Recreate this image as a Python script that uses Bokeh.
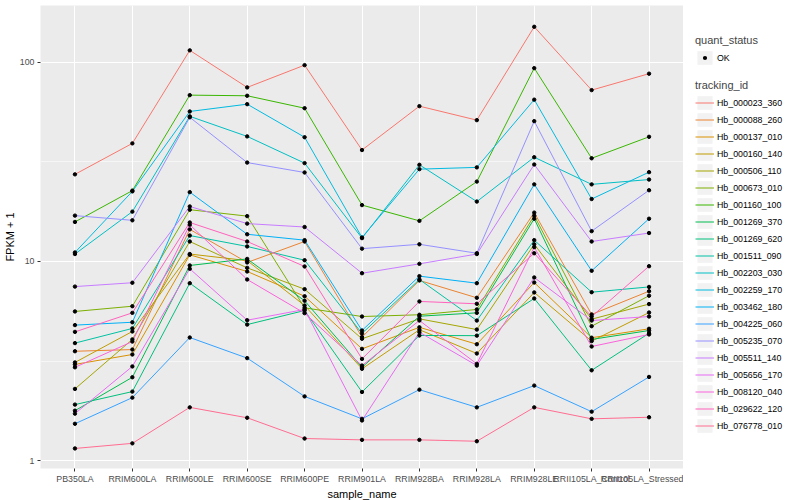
from bokeh.plotting import figure
from bokeh.models import Range1d, FixedTicker, NumeralTickFormatter, Legend, LegendItem
from bokeh.layouts import row
from bokeh.embed import file_html
from bokeh.resources import INLINE

samples = ["PB350LA", "RRIM600LA", "RRIM600LE", "RRIM600SE", "RRIM600PE", "RRIM901LA",
           "RRIM928BA", "RRIM928LA", "RRIM928LE", "RRII105LA_Control", "RRII105LA_Stressed"]

series_ids = ["Hb_000023_360", "Hb_000088_260", "Hb_000137_010", "Hb_000160_140", "Hb_000506_110",
              "Hb_000673_010", "Hb_001160_100", "Hb_001269_370", "Hb_001269_620", "Hb_001511_090",
              "Hb_002203_030", "Hb_002259_170", "Hb_003462_180", "Hb_004225_060", "Hb_005235_070",
              "Hb_005511_140", "Hb_005656_170", "Hb_008120_040", "Hb_029622_120", "Hb_076778_010"]

hb_000023_360 = [27.4, 39.2, 115, 74.9, 96.9, 36.3, 60.3, 51.3, 151, 72.6, 87.8]
hb_000088_260 = [3.54, 3.61, 14.5, 9.89, 12.6, 4.17, 8.03, 6.57, 17.6, 5.42, 7.09]
hb_000137_010 = [3.04, 3.41, 10.8, 8.91, 6.69, 3.64, 4.67, 3.84, 7.84, 4.14, 4.59]
hb_000160_140 = [3.11, 4.45, 10.9, 10.1, 6.01, 2.89, 4.54, 3.45, 6.99, 3.98, 5.54]
hb_000506_110 = [2.29, 4.06, 12.6, 9.29, 7.26, 4.09, 5.15, 4.55, 12.2, 5.13, 6.11]
hb_000673_010 = [5.61, 5.96, 18.2, 16.9, 5.85, 5.29, 5.40, 5.74, 17.0, 4.73, 6.73]
hb_001160_100 = [15.8, 22.7, 68.5, 68.0, 58.9, 19.2, 16.0, 25.2, 93.6, 33.0, 42.3]
hb_001269_370 = [1.78, 2.62, 9.55, 10.3, 6.35, 2.94, 5.31, 5.52, 16.4, 4.06, 4.50]
hb_001269_620 = [1.91, 2.22, 7.78, 4.82, 5.67, 2.21, 4.25, 4.24, 6.52, 2.84, 4.36]
hb_001511_090 = [3.89, 4.61, 13.5, 11.9, 10.15, 4.35, 8.12, 5.05, 12.8, 7.01, 7.45]
hb_002203_030 = [10.9, 17.8, 53.6, 42.5, 31.2, 13.1, 30.6, 20.0, 33.4, 24.4, 25.8]
hb_002259_170 = [11.1, 22.5, 56.7, 61.7, 42.1, 13.2, 29.1, 29.7, 65.0, 20.6, 28.1]
hb_003462_180 = [4.79, 4.95, 22.3, 13.7, 12.8, 4.50, 8.44, 7.78, 24.4, 8.98, 16.4]
hb_004225_060 = [1.53, 2.07, 4.15, 3.27, 2.10, 1.62, 2.27, 1.85, 2.38, 1.76, 2.63]
hb_005235_070 = [17.0, 16.1, 53.0, 31.4, 28.0, 11.6, 12.2, 11.0, 50.7, 14.2, 22.8]
hb_005511_140 = [7.48, 7.82, 18.9, 15.5, 14.9, 8.73, 9.73, 10.9, 30.7, 12.6, 13.9]
hb_005656_170 = [1.72, 2.97, 9.19, 5.07, 5.74, 1.59, 4.41, 3.00, 8.31, 5.05, 5.29]
hb_008120_040 = [2.94, 3.96, 15.3, 8.12, 5.50, 3.00, 5.05, 3.06, 11.8, 3.74, 4.30]
hb_029622_120 = [4.43, 5.52, 15.7, 12.6, 9.44, 3.24, 6.30, 6.13, 11.0, 5.29, 9.47]
hb_076778_010 = [1.15, 1.22, 1.85, 1.64, 1.29, 1.27, 1.27, 1.25, 1.85, 1.62, 1.65]

series_values = [hb_000023_360, hb_000088_260, hb_000137_010, hb_000160_140, hb_000506_110,
                 hb_000673_010, hb_001160_100, hb_001269_370, hb_001269_620, hb_001511_090,
                 hb_002203_030, hb_002259_170, hb_003462_180, hb_004225_060, hb_005235_070,
                 hb_005511_140, hb_005656_170, hb_008120_040, hb_029622_120, hb_076778_010]

colors = ["#F8766D", "#EA8331", "#D89000", "#C09B00", "#A3A500", "#7CAE00", "#39B600", "#00BB4E",
          "#00BF7D", "#00C1A3", "#00BFC4", "#00BAE0", "#00B0F6", "#35A2FF", "#9590FF", "#C77CFF",
          "#E76BF3", "#FA62DB", "#FF62BC", "#FF6C91"]

status_label = "OK"
y_major = [1, 10, 100]
y_minor = [3.162, 31.62]

FONT = "Liberation Sans"
FRAME_H = 463
TOP = 5
BOTTOM = 30
KEY_BG = "#F2F2F2"

p = figure(frame_width=643, frame_height=FRAME_H, y_axis_type="log",
           x_range=Range1d(-0.6, len(samples) - 0.4), y_range=Range1d(0.912, 193.2),
           output_backend="svg", toolbar_location=None,
           min_border_left=0, min_border_right=0, min_border_top=TOP, min_border_bottom=0)
p.background_fill_color = "#EBEBEB"
p.border_fill_color = "white"
p.outline_line_color = None

xs = list(range(len(samples)))
for vals, c in zip(series_values, colors):
    p.line(xs, vals, line_color=c, line_width=1.0)
for vals in series_values:
    p.scatter(xs, vals, size=3.4, color="black")

p.xaxis.ticker = FixedTicker(ticks=xs)
p.xaxis.major_label_overrides = {i: s for i, s in enumerate(samples)}
yt = FixedTicker(ticks=y_major, minor_ticks=y_minor)
p.yaxis.ticker = yt
p.ygrid.ticker = yt
p.yaxis.formatter = NumeralTickFormatter(format="0")

for ax in (p.xaxis, p.yaxis):
    ax.axis_line_color = None
    ax.major_tick_line_color = "#333333"
    ax.major_tick_out = 3
    ax.major_tick_in = 0
    ax.minor_tick_line_color = None
    ax.major_label_text_color = "#4D4D4D"
    ax.major_label_text_font_size = "8.8px"
    ax.major_label_text_font = FONT
    ax.major_label_standoff = 2
    ax.axis_label_text_font_size = "11px"
    ax.axis_label_text_font_style = "normal"
    ax.axis_label_text_font = FONT
    ax.axis_label_text_color = "black"
    ax.axis_label_standoff = 1

p.xaxis.axis_label = "sample_name"
p.yaxis.axis_label = "FPKM + 1"

p.xgrid.grid_line_color = "white"
p.xgrid.grid_line_width = 1.07
p.ygrid.grid_line_color = "white"
p.ygrid.grid_line_width = 1.07
p.ygrid.minor_grid_line_color = "white"
p.ygrid.minor_grid_line_width = 0.55

# legend panel: a second figure whose view range excludes all data, so its
# renderers only show up as legend keys
lf = figure(frame_width=109, frame_height=FRAME_H, x_range=Range1d(-2, -1), y_range=Range1d(-2, -1),
            output_backend="svg", toolbar_location=None,
            min_border_left=0, min_border_right=0, min_border_top=TOP, min_border_bottom=BOTTOM,
            x_axis_location=None, y_axis_location=None)
lf.outline_line_color = None
lf.background_fill_color = "white"
lf.border_fill_color = "white"
lf.grid.visible = False

key_r = lf.rect(x=xs, y=series_values[0], width=0, height=0, width_units="screen",
                height_units="screen", fill_color=KEY_BG, line_color=None)
# key-coloured outline shrinks the visible black dot in the legend key
pt_r = lf.scatter(xs, series_values[0], size=3.4, fill_color="black",
                  line_color=KEY_BG, line_width=2.6)
seg_rs = [lf.segment(x0=xs, y0=vals, x1=xs, y1=vals, line_color=c, line_width=1.0)
          for vals, c in zip(series_values, colors)]


def style(lg):
    lg.background_fill_alpha = 0
    lg.border_line_color = None
    lg.padding = 0
    lg.margin = 0
    lg.spacing = 0
    lg.glyph_height = 17
    lg.glyph_width = 19
    lg.label_height = 17
    lg.label_standoff = 3
    lg.label_text_font_size = "8.8px"
    lg.label_text_font = FONT
    lg.label_text_color = "black"
    lg.title_text_font_size = "11px"
    lg.title_text_font_style = "normal"
    lg.title_text_font = FONT
    lg.title_standoff = 3


leg1 = Legend(items=[LegendItem(label=status_label, renderers=[key_r, pt_r])],
              title="quant_status", location=(12, 402))
style(leg1)
leg2 = Legend(items=[LegendItem(label=sid, renderers=[key_r, sr]) for sid, sr in zip(series_ids, seg_rs)],
              title="tracking_id", location=(12, 34))
style(leg2)
lf.add_layout(leg1)
lf.add_layout(leg2)

layout = row(p, lf, spacing=0)
open("out.html", "w").write(file_html(layout, INLINE))
